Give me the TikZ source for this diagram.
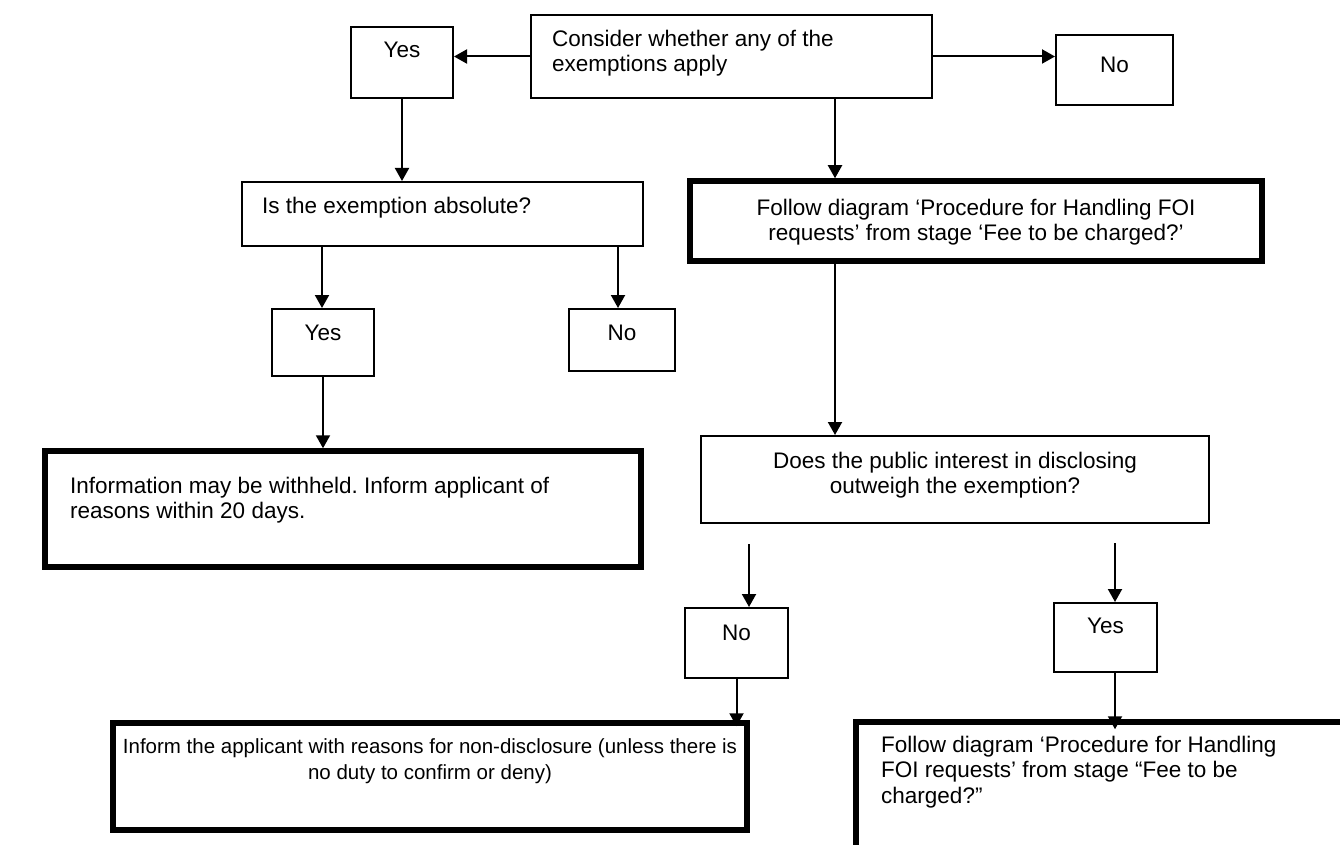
\documentclass[tikz,border=0pt]{standalone}
\usepackage{fontspec}
\setmainfont{Liberation Sans}
\usetikzlibrary{arrows.meta}
\frenchspacing
\begin{document}
\begin{tikzpicture}[x=1pt,y=-1pt,
  font=\fontsize{22.5}{25.5}\selectfont,
  box/.style={draw, line width=2pt, inner sep=0pt, rectangle},
  heavybox/.style={draw, line width=5.5pt, inner sep=0pt, rectangle},
  txt/.style={inner sep=0pt},
  arr/.style={line width=2pt, -{Triangle[length=13pt,width=14pt]}},
]
\useasboundingbox (0,0) rectangle (1340,845);
\clip (0,0) rectangle (1340,845);

% --- top row ---
\node[box, minimum width=401pt, minimum height=83pt] (c) at (731.5,56.5) {};
\node[txt, anchor=north west, align=left] (c-t) at (552,29.5) {Consider whether any of the\\exemptions apply};

\node[box, minimum width=102pt, minimum height=71pt] (yes1) at (402,62.5) {};
\node[txt, anchor=base] (yes1-t) at (402,58) {Yes};

\node[box, minimum width=117pt, minimum height=70pt] (no1) at (1114.5,70) {};
\node[txt, anchor=base] (no1-t) at (1114.5,73) {No};

% --- second row ---
\node[box, minimum width=401pt, minimum height=64pt] (isex) at (442.5,214) {};
\node[txt, anchor=base west] (isex-t) at (262,213) {Is the exemption absolute?};

\node[heavybox, minimum width=572pt, minimum height=80pt] (f1) at (976,221) {};
\node[txt, anchor=north, align=center] (f1-t) at (976,198.5) {Follow diagram ‘Procedure for Handling FOI\\requests’ from stage ‘Fee to be charged?’};

% --- third row ---
\node[box, minimum width=102pt, minimum height=67pt] (yes3) at (323,342.5) {};
\node[txt, anchor=base] (yes3-t) at (323,340) {Yes};

\node[box, minimum width=106pt, minimum height=62pt] (no3) at (622,340) {};
\node[txt, anchor=base] (no3-t) at (622,340) {No};

\node[heavybox, minimum width=596pt, minimum height=116pt] (info) at (343,509) {};
\node[txt, anchor=north west, align=left] (info-t) at (70,476.5) {Information may be withheld. Inform applicant of\\reasons within 20 days.};

\node[box, minimum width=508pt, minimum height=87pt] (does) at (955,479.5) {};
\node[txt, anchor=north, align=center] (does-t) at (955,451.5) {Does the public interest in disclosing\\outweigh the exemption?};

% --- fourth row ---
\node[box, minimum width=103pt, minimum height=70pt] (no4) at (736.5,643) {};
\node[txt, anchor=base] (no4-t) at (736.5,640) {No};

\node[box, minimum width=103pt, minimum height=69pt] (yes2) at (1105.5,637.5) {};
\node[txt, anchor=base] (yes2-t) at (1105.5,633) {Yes};

% --- bottom row ---
\node[heavybox, minimum width=634pt, minimum height=107pt] (inform) at (430,776.5) {};
\node[txt, anchor=north, align=center, font=\fontsize{20.5}{25.5}\selectfont] (inform-t) at (430,738.5) {Inform the applicant with reasons for non-disclosure (unless there is\\no duty to confirm or deny)};

\node[heavybox, minimum width=520pt, minimum height=160pt] (f2) at (1116,802) {};
\node[txt, anchor=north west, align=left] (f2-t) at (881,735.5) {Follow diagram ‘Procedure for Handling\\FOI requests’ from stage “Fee to be\\charged?”};

% --- connectors ---
\draw[arr] (c.west) -- (c.west -| yes1.east);
\draw[arr] (c.east) -- (c.east -| no1.west);
\draw[arr] (yes1.south) -- (yes1.south |- isex.north);
\draw[arr] ([xshift=103.5pt]c.south) -- ([xshift=103.5pt]c.south |- f1.north);
\draw[arr] ([xshift=-1pt]yes3.north |- isex.south) -- ([xshift=-1pt]yes3.north);
\draw[arr] ([xshift=-4pt]no3.north |- isex.south) -- ([xshift=-4pt]no3.north);
\draw[arr] (yes3.south) -- (yes3.south |- info.north);
\draw[arr] ([xshift=-141pt]f1.south) -- ([xshift=-141pt]f1.south |- does.north);
\draw[arr] ([xshift=12.5pt,yshift=-20pt]no4.north |- does.south) -- ([xshift=12.5pt]no4.north);
\draw[arr] ([xshift=9.5pt,yshift=-19pt]yes2.north |- does.south) -- ([xshift=9.5pt]yes2.north);
\draw[arr] (no4.south) -- ([yshift=-6pt]no4.south |- inform.north);
\draw[arr] ([xshift=9.5pt]yes2.south) -- ([xshift=9.5pt,yshift=-10pt]yes2.south |- f2.north);
\end{tikzpicture}
\end{document}
